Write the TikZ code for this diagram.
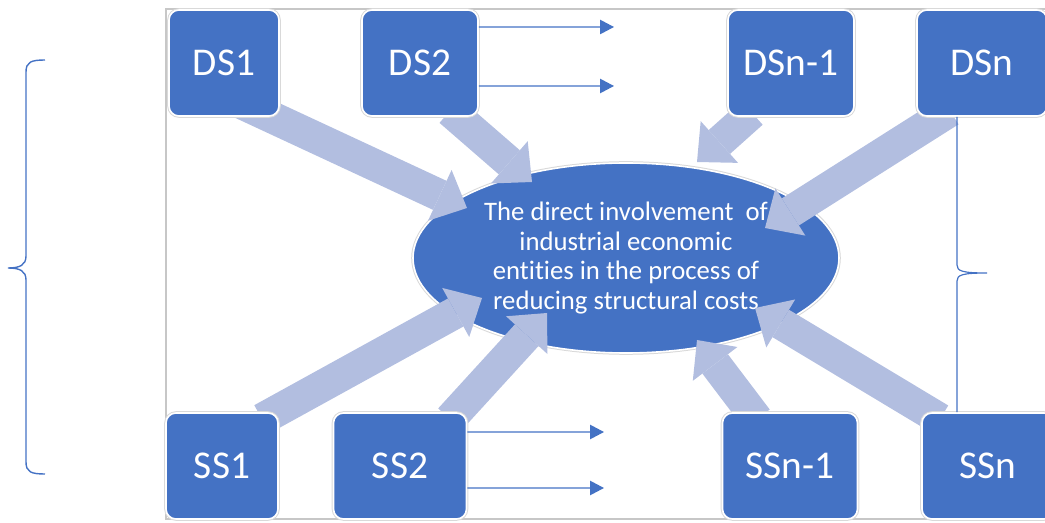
\documentclass[tikz,border=0pt]{standalone}
\usepackage{fontspec}
\setmainfont{Carlito}[Ligatures=NoCommon]
\usepackage{xcolor}
\usepackage{tikz}
\usetikzlibrary{positioning,shapes,arrows.meta,calc}

\definecolor{boxblue}{RGB}{68,114,196}
\definecolor{flowblue}{RGB}{178,190,224}

\pgfdeclarelayer{back}
\pgfdeclarelayer{mid}
\pgfsetlayers{back,mid,main}

\begin{document}
\begin{tikzpicture}[
            x=0.25mm, y=-0.25mm,
            stage/.style={rectangle, rounded corners=2.5mm, fill=boxblue, draw=white, line width=0.4mm,
                preaction={draw=black!15, line width=0.9mm}, text=white, minimum height=26.5mm,
                font=\fontsize{28}{34}\selectfont},
            core/.style={ellipse, fill=boxblue, draw=white, line width=0.4mm,
                preaction={draw=black!15, line width=0.9mm}, inner sep=0pt,
                minimum width=106.5mm, minimum height=47.5mm, text=white, align=center,
                font=\fontsize{19}{21.3}\selectfont},
            flow/.style={draw=flowblue, line width=8mm, -{Triangle[length=7.5mm, width=14mm, line width=0pt]}},
            link/.style={draw=boxblue, line width=0.35mm, -{Triangle[length=3.5mm, width=3.6mm]}},
            auto
        ]
            \useasboundingbox (0,0) rectangle (1045,523);
            \clip (0,0) rectangle (1045,523);
            % Frame and centre
            \begin{pgfonlayer}{back}
                \draw[black!22, line width=0.4mm] (166,9) rectangle (1060,519);
                \node[core] (core) at (626,258) {The direct involvement\ \ of\\industrial economic\\entities in the process of\\reducing structural costs};
            \end{pgfonlayer}
            \begin{scope}[
                every node/.style={stage}
            ]
                % Demand side
                \node[minimum width=27.5mm] (ds1) at (224,63) {DS1};
                \node[minimum width=29mm] (ds2) at (420,63) {DS2};
                \node[minimum width=31.5mm] (dsn1) at (791,63) {DSn-1};
                \node[minimum width=32.5mm] (dsn) at (982,63) {DSn};
                % Supply side
                \node[minimum width=28mm] (ss1) at (222,466) {SS1};
                \node[minimum width=33.25mm] (ss2) at (400,466) {SS2};
                \node[minimum width=33.75mm] (ssn1) at (790,466) {SSn-1};
                \node[minimum width=33mm] (ssn) at (988,466) {SSn};
            \end{scope}
            % Flows into the centre
            \begin{pgfonlayer}{mid}
                \coordinate (in1) at (467,208);
                \coordinate (in2) at (532,182);
                \coordinate (in3) at (697,162);
                \coordinate (in4) at (765,228);
                \coordinate (in5) at (482,298);
                \coordinate (in6) at (547,313);
                \coordinate (in7) at (697,340);
                \coordinate (in8) at (755,308);
                \draw[flow] ($(ds1.south)+(6,-19)$) -- (in1);
                \draw[flow] ($(ds2.south)+(30,-6)$) -- (in2);
                \draw[flow] ($(dsn1.south)+(-39,-4)$) -- (in3);
                \draw[flow] ($(dsn.south)+(-32,-6)$) -- (in4);
                \draw[flow] ($(ss1.north)+(40,7)$) -- (in5);
                \draw[flow] ($(ss2.north)+(50,7)$) -- (in6);
                \draw[flow] ($(ssn1.north)+(-33,7)$) -- (in7);
                \draw[flow] ($(ssn.north)+(-48,7)$) -- (in8);
            \end{pgfonlayer}
            % Side arrows
            \coordinate (d2a) at (614,27);
            \coordinate (d2b) at (614,86);
            \coordinate (s2a) at (604,432);
            \coordinate (s2b) at (604,488);
            \draw[link] ([yshift=9mm]ds2.east) -- (d2a);
            \draw[link] ([yshift=-5.75mm]ds2.east) -- (d2b);
            \draw[link] ([yshift=8.5mm]ss2.east) -- (s2a);
            \draw[link] ([yshift=-5.5mm]ss2.east) -- (s2b);
            % Braces
            \draw[boxblue, line width=0.35mm] (45,60) .. controls (31,60) and (26,62) .. (26,72) -- (26,256)
                .. controls (26,265) and (20,268) .. (8,268) .. controls (20,268) and (26,271) .. (26,280)
                -- (26,462) .. controls (26,472) and (31,474) .. (45,474);
            \draw[boxblue, line width=0.3mm] ([xshift=-6.25mm]dsn.south) -- (957,265)
                .. controls (957,271) and (962,273) .. (987,273) .. controls (962,273) and (957,275) .. (957,281)
                -- ([xshift=-7.75mm]ssn.north);
        \end{tikzpicture}
\end{document}
